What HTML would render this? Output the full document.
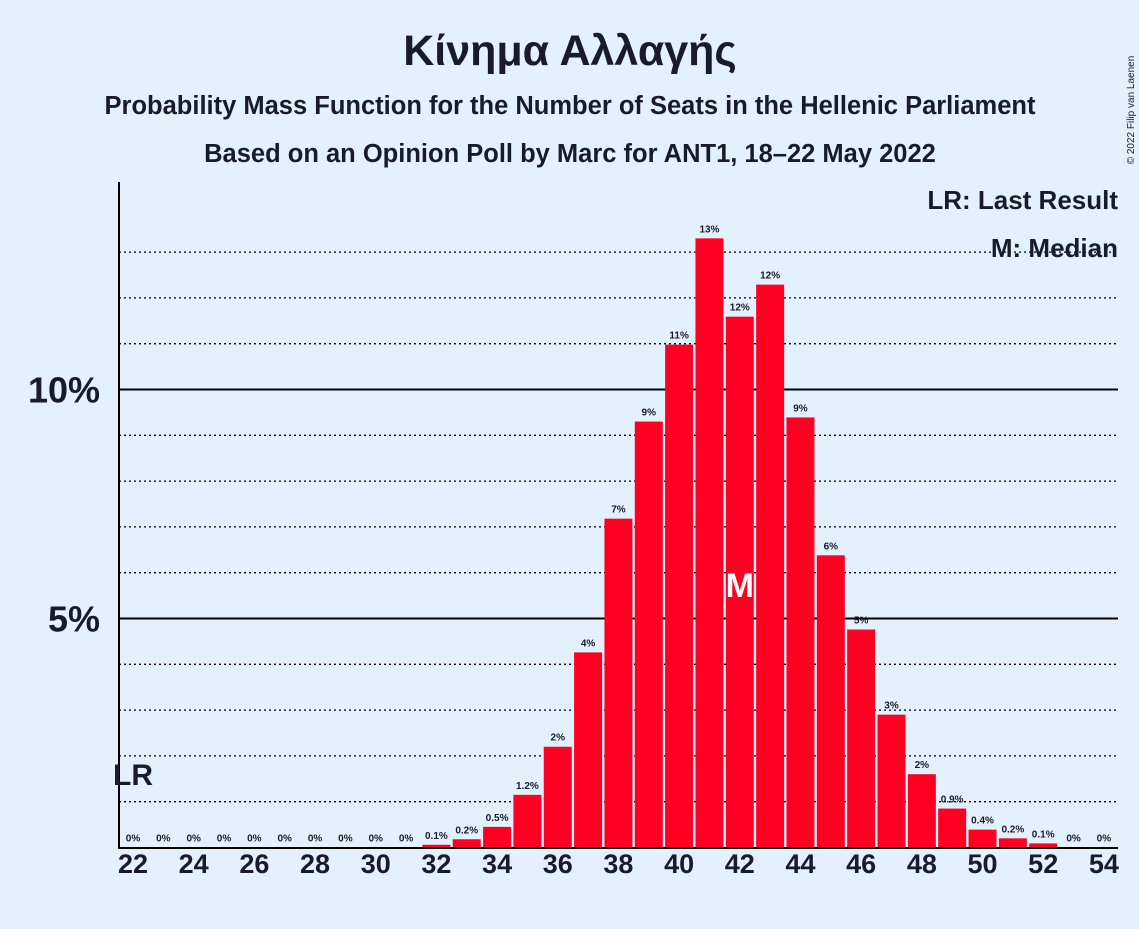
<!DOCTYPE html>
<html><head><meta charset="utf-8"><style>
body{margin:0;background:#e3f0fd;}
svg text{font-family:"Liberation Sans",sans-serif;font-weight:bold;fill:#1a1a2e;}
</style></head><body>
<svg id="c" width="1139" height="924" viewBox="0 0 1139 924" xmlns="http://www.w3.org/2000/svg">
<rect width="1139" height="924" fill="#e3f0fd"/>
<text x="570" y="65" font-size="43" text-anchor="middle">Κίνημα Αλλαγής</text>
<text x="570" y="114" font-size="25.5" text-anchor="middle">Probability Mass Function for the Number of Seats in the Hellenic Parliament</text>
<text x="570" y="162" font-size="25.5" text-anchor="middle">Based on an Opinion Poll by Marc for ANT1, 18–22 May 2022</text>
<text x="1134" y="110" font-size="10" text-anchor="middle" transform="rotate(-90 1134 110)" style="font-weight:normal">© 2022 Filip van Laenen</text>
<g id="grid"></g>
<g id="bars"></g>
<g id="labels"></g>
<line x1="119" y1="182" x2="119" y2="848" stroke="#000" stroke-width="2"/>
<line x1="118" y1="848" x2="1118" y2="848" stroke="#000" stroke-width="2"/>
<text x="1118" y="209" font-size="26" text-anchor="end">LR: Last Result</text>
<text x="1118" y="257" font-size="26" text-anchor="end">M: Median</text>
<text x="113" y="785" font-size="30">LR</text>
</svg>
<script>
const seats=[22,23,24,25,26,27,28,29,30,31,32,33,34,35,36,37,38,39,40,41,42,43,44,45,46,47,48,49,50,51,52,53,54];
const probs=[0,0,0,0,0,0,0,0,0,0,0.06,0.18,0.45,1.15,2.2,4.26,7.18,9.3,10.98,13.3,11.59,12.29,9.39,6.38,4.76,2.9,1.6,0.85,0.39,0.2,0.09,0,0];
const printed=["0%","0%","0%","0%","0%","0%","0%","0%","0%","0%","0.1%","0.2%","0.5%","1.2%","2%","4%","7%","9%","11%","13%","12%","12%","9%","6%","5%","3%","2%","0.9%","0.4%","0.2%","0.1%","0%","0%"];
const yTicks=[5,10];
const xTicks=[22,24,26,28,30,32,34,36,38,40,42,44,46,48,50,52,54];
const medianSeat=42;
const NS="http://www.w3.org/2000/svg";
const x=s=>133+(s-22)*30.34;
const y=p=>847.5-p*45.8;
function mk(tag,attrs,parent){const e=document.createElementNS(NS,tag);for(const k in attrs)e.setAttribute(k,attrs[k]);document.getElementById(parent).appendChild(e);return e;}
for(let p=1;p<=13;p++){
  const solid=yTicks.includes(p);
  const l=mk('line',{x1:119,x2:1118,y1:y(p),y2:y(p),stroke:'#000','stroke-width':solid?2:1.3,'stroke-dasharray':solid?'':'2,3'},'grid');
  
  
}
yTicks.forEach(t=>{
  const e=mk('text',{x:100,y:y(t)+13,'font-size':36,'text-anchor':'end'},'labels');
  e.textContent=t+'%';
  
  
});
xTicks.forEach(t=>{
  const e=mk('text',{x:x(t),y:873,'font-size':27,'text-anchor':'middle'},'labels');
  e.textContent=t;
  
  
});
seats.forEach((s,i)=>{
  const p=probs[i];
  if(p>0){
    const r=mk('rect',{x:x(s)-14,y:y(p),width:28,height:847.5-y(p),fill:'#ff0022'},'bars');
    
    
  }
  const t=mk('text',{x:x(s),y:y(p)-6,'font-size':10,'text-anchor':'middle'},'labels');
  t.textContent=printed[i];
  
  
});
const m=mk('text',{x:x(medianSeat),y:597,'font-size':34,'text-anchor':'middle',style:'fill:#fff'},'labels');
m.textContent='M';


</script>
</body></html>
